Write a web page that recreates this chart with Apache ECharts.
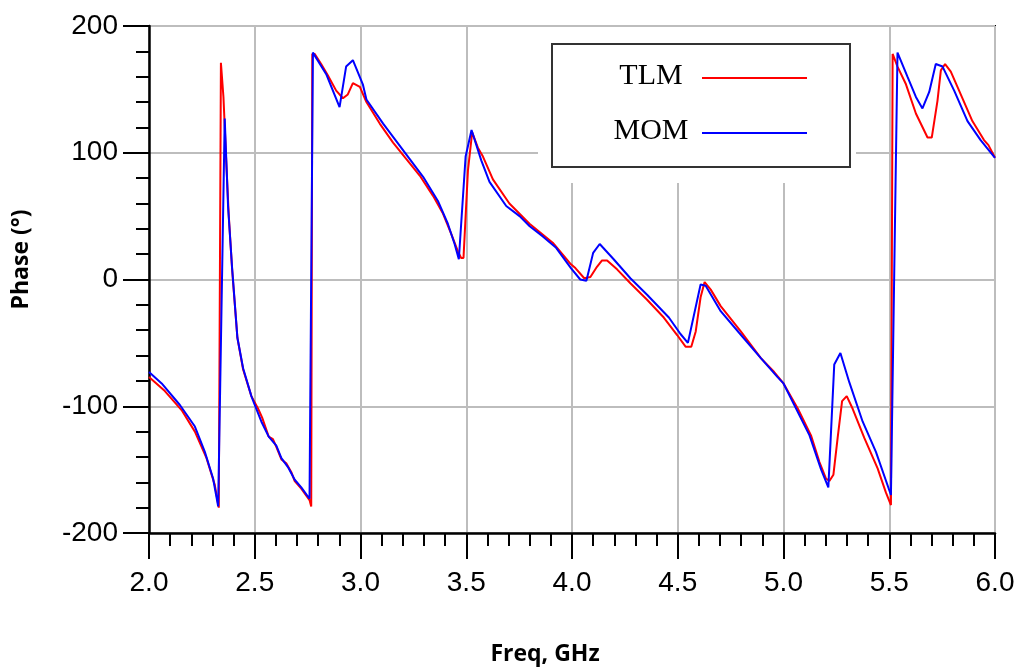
<!DOCTYPE html>
<html>
<head>
<meta charset="utf-8">
<script src="https://cdn.jsdelivr.net/npm/echarts@6/dist/echarts.min.js"></script>
<style>
  html, body { margin: 0; padding: 0; background: #fff; }
  #chart { width: 1021px; height: 667px; }
</style>
</head>
<body>
<div id="chart"></div>
<script>
const seriesNames = ['TLM', 'MOM'];
const xTicks = [2.0, 2.5, 3.0, 3.5, 4.0, 4.5, 5.0, 5.5, 6.0];
const yTicks = [-200, -100, 0, 100, 200];

const tlmFreq = [2.0, 2.075, 2.154, 2.217, 2.272, 2.311, 2.330, 2.340, 2.352, 2.365, 2.377, 2.393, 2.418, 2.445, 2.484, 2.516, 2.535, 2.566, 2.586, 2.602, 2.626, 2.649, 2.673, 2.689, 2.720, 2.759, 2.767, 2.772, 2.783, 2.814, 2.846, 2.885, 2.917, 2.940, 2.964, 2.997, 3.028, 3.091, 3.154, 3.217, 3.280, 3.343, 3.390, 3.429, 3.461, 3.476, 3.487, 3.508, 3.528, 3.555, 3.579, 3.626, 3.704, 3.799, 3.909, 3.995, 4.016, 4.058, 4.087, 4.118, 4.142, 4.166, 4.213, 4.276, 4.355, 4.434, 4.498, 4.537, 4.564, 4.585, 4.608, 4.627, 4.656, 4.703, 4.798, 4.893, 4.956, 5.0, 5.068, 5.130, 5.170, 5.201, 5.217, 5.236, 5.256, 5.277, 5.299, 5.327, 5.382, 5.445, 5.484, 5.508, 5.516, 5.539, 5.579, 5.626, 5.681, 5.701, 5.728, 5.744, 5.764, 5.791, 5.838, 5.893, 5.948, 5.969, 6.0];
const tlmPhase = [-77, -88, -103, -120, -141, -162, -180, 171, 144, 94, 51, 8, -46, -71, -92, -102, -109, -124, -126, -132, -142, -145, -152, -159, -165, -174, -179, 178, 178, 170, 161, 149, 143, 146, 155, 152, 140, 123, 108, 95, 82, 66, 52, 36, 22, 17, 17, 86, 116, 104, 97, 79, 60, 44, 29, 12, 9, 1, 2, 10, 15, 15, 8, -3, -16, -30, -44, -53, -53, -41, -14, -2, -8, -21, -41, -62, -73, -82, -102, -123, -144, -157, -159, -154, -125, -96, -92, -102, -125, -149, -168, -178, 178, 168, 154, 131, 112, 112, 141, 165, 170, 164, 146, 125, 110, 106, 96];

const momFreq = [2.0, 2.06, 2.146, 2.217, 2.264, 2.303, 2.327, 2.358, 2.374, 2.393, 2.418, 2.445, 2.484, 2.5, 2.531, 2.566, 2.602, 2.626, 2.657, 2.689, 2.720, 2.759, 2.775, 2.838, 2.901, 2.932, 2.964, 3.011, 3.028, 3.107, 3.170, 3.233, 3.296, 3.366, 3.413, 3.445, 3.465, 3.497, 3.525, 3.571, 3.610, 3.689, 3.752, 3.800, 3.862, 3.925, 3.995, 4.039, 4.068, 4.100, 4.131, 4.197, 4.276, 4.355, 4.458, 4.513, 4.548, 4.608, 4.632, 4.703, 4.790, 4.893, 4.972, 5.0, 5.06, 5.123, 5.178, 5.212, 5.240, 5.269, 5.311, 5.374, 5.437, 5.508, 5.539, 5.586, 5.626, 5.657, 5.689, 5.720, 5.752, 5.807, 5.870, 5.932, 6.0];
const momPhase = [-73, -82, -99, -116, -136, -157, -179, 127, 57, 9, -46, -70, -92, -99, -112, -124, -131, -141, -148, -158, -164, -173, 179, 162, 136, 168, 173, 154, 142, 123, 109, 95, 81, 62, 44, 28, 16, 97, 118, 94, 77, 58, 50, 42, 34, 25, 9, 0, -1, 21, 28, 16, 1, -12, -30, -43, -50, -4, -5, -25, -42, -62, -77, -82, -102, -123, -150, -164, -67, -58, -81, -112, -136, -170, 179, 160, 144, 135, 148, 170, 168, 149, 125, 110, 96];

const seriesColors = ['#ff0000', '#0000ff'];

function pairs(xs, ys) { return xs.map((x, i) => [x, ys[i]]); }

const chart = echarts.init(document.getElementById('chart'), null, { renderer: 'canvas' });

const tickFont = { fontFamily: 'Liberation Sans, Arial, sans-serif', fontSize: 28, color: '#000' };
const nameFont = { fontFamily: 'Open Sans, sans-serif', fontWeight: 'bold', fontSize: 23, color: '#000' };

// legend drawn as graphic elements (box, centered labels, line samples)
const legendBox = { x: 552, y: 44, w: 298, h: 123 };
const legendRows = [76, 131];
const legendGraphic = [
  { type: 'rect', z: 10, silent: true, shape: { x: 538, y: 27, width: 318, height: 156 }, style: { fill: '#fff' } },
  { type: 'rect', z: 11, silent: true, shape: { x: legendBox.x, y: legendBox.y, width: legendBox.w, height: legendBox.h },
    style: { fill: '#fff', stroke: '#333', lineWidth: 2 } }
];
seriesNames.forEach((n, i) => {
  legendGraphic.push({ type: 'text', z: 12, silent: true, x: 651, y: legendRows[i],
    style: { text: n, fill: '#000', font: '30px "Liberation Serif", "Times New Roman", serif', align: 'center', verticalAlign: 'middle' } });
  legendGraphic.push({ type: 'line', z: 12, silent: true,
    shape: { x1: 702, y1: legendRows[i] + 2, x2: 807, y2: legendRows[i] + 2 },
    style: { stroke: seriesColors[i], lineWidth: 2 } });
});

chart.setOption({
  animation: false,
  backgroundColor: '#fff',
  grid: { left: 149, right: 26, top: 26, bottom: 134, show: true, borderColor: '#000', borderWidth: 2,
    backgroundColor: 'transparent', containLabel: false, outerBoundsMode: 'none' },
  xAxis: {
    type: 'value', min: xTicks[0], max: xTicks[xTicks.length - 1], interval: 0.5,
    name: 'Freq, GHz', nameLocation: 'middle', nameGap: 110,
    nameTextStyle: { ...nameFont, padding: [0, 54, 0, 0] },
    axisLine: { show: true, onZero: false, lineStyle: { color: '#000', width: 2.5 } },
    axisTick: { show: true, length: 26, lineStyle: { color: '#000', width: 2 } },
    minorTick: { show: true, splitNumber: 5, length: 13, lineStyle: { color: '#000', width: 2 } },
    axisLabel: { ...tickFont, margin: 36, formatter: v => v.toFixed(1) },
    splitLine: { show: true, lineStyle: { color: '#bdbdbd', width: 2 } }
  },
  yAxis: {
    type: 'value', min: yTicks[0], max: yTicks[yTicks.length - 1], interval: 100,
    name: 'Phase (°)', nameLocation: 'middle', nameGap: 116,
    nameTextStyle: { ...nameFont, padding: [0, 0, 0, 40] },
    axisLine: { show: true, onZero: false, lineStyle: { color: '#000', width: 2.5 } },
    axisTick: { show: true, length: 26, lineStyle: { color: '#000', width: 2 } },
    minorTick: { show: true, splitNumber: 5, length: 13, lineStyle: { color: '#000', width: 2 } },
    axisLabel: { ...tickFont, margin: 31 },
    splitLine: { show: true, lineStyle: { color: '#bdbdbd', width: 2 } }
  },
  graphic: legendGraphic,
  series: [
    { name: seriesNames[0], type: 'line', data: pairs(tlmFreq, tlmPhase), symbol: 'none', z: 2,
      lineStyle: { color: seriesColors[0], width: 2 }, itemStyle: { color: seriesColors[0] } },
    { name: seriesNames[1], type: 'line', data: pairs(momFreq, momPhase), symbol: 'none', z: 2,
      lineStyle: { color: seriesColors[1], width: 2 }, itemStyle: { color: seriesColors[1] } }
  ]
});
</script>
</body>
</html>
